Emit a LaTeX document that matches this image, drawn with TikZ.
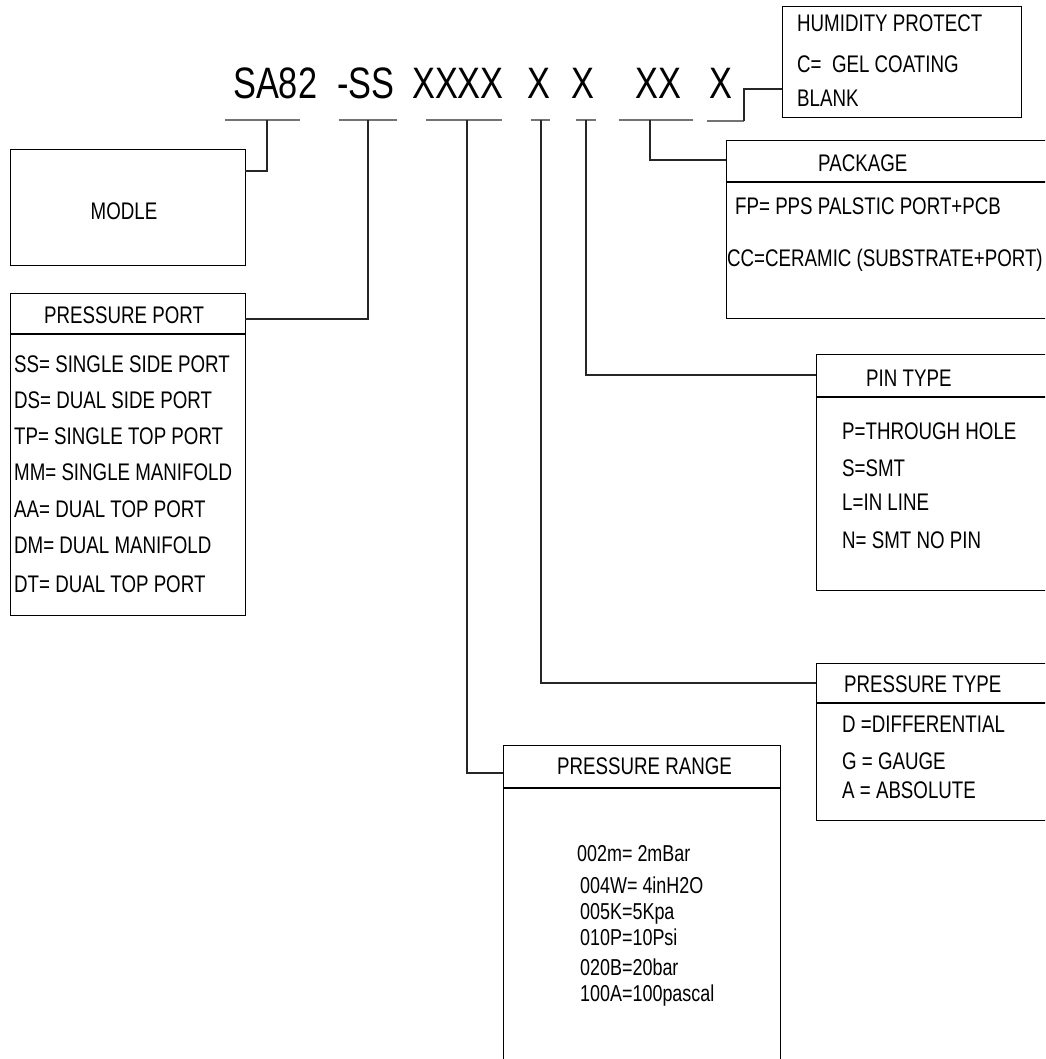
\documentclass[tikz,border=0pt]{standalone}
\usepackage{fontspec}
\setmainfont{Liberation Sans}[FakeStretch=0.78]
\begin{document}
\begin{tikzpicture}[x=1pt,y=-1pt,
  boxshape/.style={draw=black,line width=1.1pt,anchor=north west,inner sep=0pt,rectangle},
  hdr/.style={draw=black,line width=1.1pt},
  uline/.style={draw=black!55,line width=1.6pt},
  conn/.style={draw=black!85,line width=1.1pt},
  big/.style={anchor=base west,inner sep=0pt,font=\fontsize{44}{44}\selectfont},
  txt/.style={anchor=base west,inner sep=0pt,font=\fontsize{24}{24}\selectfont},
  rtxt/.style={anchor=base west,inner sep=0pt,font=\fontsize{23}{23}\selectfont}]
\useasboundingbox (0,0) rectangle (1045,1059);
\clip (0,0) rectangle (1045,1059);

% title groups
\node[big] (t1) at (233,99) {SA82};
\node[big] (t2) at (337,99) {-SS};
\node[big] (t3) at (412,99) {XXXX};
\node[big] (t4) at (527,99) {X};
\node[big] (t5) at (571,99) {X};
\node[big] (t6) at (635,99) {XX};
\node[big] (t7) at (709,99) {X};

% underlines
\draw[uline] (225,120) -- (300,120);
\draw[uline] (339,120) -- (397,120);
\draw[uline] (426,120) -- (502,120);
\draw[uline] (531,120) -- (550,120);
\draw[uline] (576,120) -- (596,120);
\draw[uline] (619,120) -- (693,120);
\draw[uline] (707,121) -- (744,121);
\coordinate (u1) at (267,120);
\coordinate (u2) at (368,120);
\coordinate (u3) at (467,120);
\coordinate (u4) at (541,120);
\coordinate (u5) at (586,120);
\coordinate (u6) at (650,120);
\coordinate (u7) at (744,121);

% MODLE
\node[boxshape,minimum width=235pt,minimum height=116pt] (modle) at (10,149) {};
\node[txt,anchor=center] (modlet) at (124,211) {MODLE};

% PRESSURE PORT
\node[boxshape,minimum width=235pt,minimum height=322pt] (port) at (10,293) {};
\draw[hdr] (10,334) -- (245,334);
\node[txt] (portt) at (44,323) {PRESSURE PORT};
\node[txt] at (14,372) {SS= SINGLE SIDE PORT};
\node[txt] at (14,408) {DS= DUAL SIDE PORT};
\node[txt] at (14,444) {TP= SINGLE TOP PORT};
\node[txt] at (14,480) {MM= SINGLE MANIFOLD};
\node[txt] at (14,517) {AA= DUAL TOP PORT};
\node[txt] at (14,553) {DM= DUAL MANIFOLD};
\node[txt] at (14,592) {DT= DUAL TOP PORT};

% HUMIDITY PROTECT
\node[boxshape,minimum width=239pt,minimum height=111pt] (hum) at (782,6) {};
\node[txt] at (797,32) {HUMIDITY PROTECT};
\node[txt] at (797,73) {C=\ \ GEL COATING};
\node[txt] at (797,107) {BLANK};

% PACKAGE
\node[boxshape,minimum width=334pt,minimum height=178pt] (pack) at (726,140) {};
\draw[hdr] (726,182) -- (1060,182);
\node[txt] at (818,172) {PACKAGE};
\node[txt] at (735,215) {FP= PPS PALSTIC PORT+PCB};
\node[txt] at (727,266) {CC=CERAMIC (SUBSTRATE+PORT)};

% PIN TYPE
\node[boxshape,minimum width=244pt,minimum height=236pt] (pin) at (816,354) {};
\draw[hdr] (816,397) -- (1060,397);
\node[txt] at (866,386) {PIN TYPE};
\node[txt] at (842,439) {P=THROUGH HOLE};
\node[txt] at (842,476) {S=SMT};
\node[txt] at (842,510) {L=IN LINE};
\node[txt] at (842,548) {N= SMT NO PIN};

% PRESSURE TYPE
\node[boxshape,minimum width=244pt,minimum height=157pt] (ptype) at (816,663) {};
\draw[hdr] (816,703) -- (1060,703);
\node[txt] at (844,692) {PRESSURE TYPE};
\node[txt] at (842,732) {D =DIFFERENTIAL};
\node[txt] at (842,769) {G = GAUGE};
\node[txt] at (842,798) {A = ABSOLUTE};

% PRESSURE RANGE
\node[boxshape,minimum width=277pt,minimum height=330pt] (range) at (503,745) {};
\draw[hdr] (503,788) -- (780,788);
\node[txt] at (557,774) {PRESSURE RANGE};
\node[rtxt] at (577,861) {002m= 2mBar};
\node[rtxt] at (580,893) {004W= 4inH2O};
\node[rtxt] at (580,919) {005K=5Kpa};
\node[rtxt] at (580,945) {010P=10Psi};
\node[rtxt] at (580,975) {020B=20bar};
\node[rtxt] at (580,1001) {100A=100pascal};

% connectors
\coordinate (c1) at (245,171);
\coordinate (c2) at (245,319);
\coordinate (c3) at (503,773);
\coordinate (c4) at (816,683);
\coordinate (c5) at (816,375);
\coordinate (c6) at (726,160);
\coordinate (c7) at (782,89);
\draw[conn] (c1) -| (u1);
\draw[conn] (c2) -| (u2);
\draw[conn] (c3) -| (u3);
\draw[conn] (c4) -| (u4);
\draw[conn] (c5) -| (u5);
\draw[conn] (c6) -| (u6);
\draw[conn] (c7) -| (u7);
\end{tikzpicture}
\end{document}
